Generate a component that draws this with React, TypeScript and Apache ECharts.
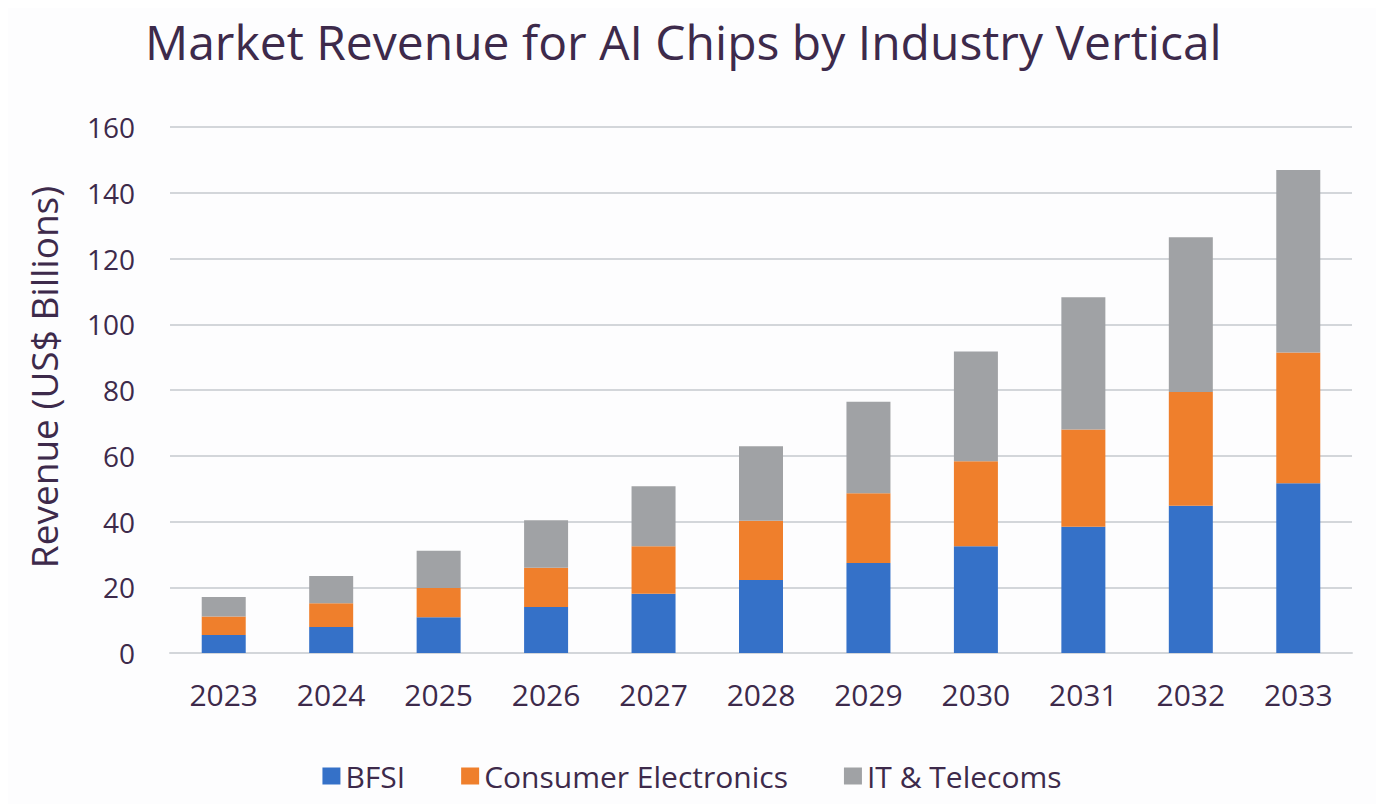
import React, { useEffect, useRef } from "react";
import * as echarts from "echarts";

const years = ["2023", "2024", "2025", "2026", "2027", "2028", "2029", "2030", "2031", "2032", "2033"];
const bfsi = [5.5, 7.9, 10.9, 14.0, 18.0, 22.2, 27.4, 32.5, 38.4, 44.8, 51.6];
const consumerElectronics = [5.6, 7.2, 8.9, 11.9, 14.5, 18.0, 21.2, 25.8, 29.6, 34.6, 39.8];
const itTelecoms = [5.9, 8.3, 11.3, 14.5, 18.2, 22.7, 27.8, 33.4, 40.2, 47.1, 55.5];

const FONT = "'Open Sans', 'Noto Sans', sans-serif";
const TEXT = "#3d2a4b";

export default function App() {
  const ref = useRef<HTMLDivElement>(null);
  useEffect(() => {
    if (!ref.current) return;
    const chart = echarts.init(ref.current, undefined, { renderer: "svg" });
    chart.setOption({
      animation: false,
      backgroundColor: "#fdfdfe",
      title: {
        text: "Market Revenue for AI Chips by Industry Vertical",
        left: 140,
        top: 12,
        textStyle: { fontFamily: FONT, fontSize: 48, fontWeight: "normal", color: TEXT },
      },
      legend: {
        top: 756,
        left: "center",
        itemWidth: 18,
        itemHeight: 17,
        itemGap: 56,
        icon: "rect",
        textStyle: { fontFamily: FONT, fontSize: 30, color: TEXT },
        data: ["BFSI", "Consumer Electronics", "IT & Telecoms"],
      },
      grid: { left: 170, right: 32, top: 127, bottom: 159 },
      xAxis: {
        type: "category",
        data: years,
        axisTick: { show: false },
        axisLine: { lineStyle: { color: "#d3d6da", width: 2 } },
        axisLabel: { fontFamily: FONT, fontSize: 30, color: TEXT, margin: 26 },
      },
      yAxis: {
        type: "value",
        min: 0,
        max: 160,
        interval: 20,
        name: "Revenue (US$ Billions)",
        nameLocation: "middle",
        nameGap: 108,
        nameRotate: 90,
        nameTextStyle: { fontFamily: FONT, fontSize: 37, color: TEXT, padding: [0, 0, 0, 26] },
        axisLabel: { fontFamily: FONT, fontSize: 28, color: TEXT, margin: 35 },
        splitLine: { lineStyle: { color: "#d3d6da", width: 2 } },
      },
      series: [
        { name: "BFSI", type: "bar", stack: "t", data: bfsi, barWidth: 44, itemStyle: { color: "#3571c8" } },
        { name: "Consumer Electronics", type: "bar", stack: "t", data: consumerElectronics, barWidth: 44, itemStyle: { color: "#ef7f2c" } },
        { name: "IT & Telecoms", type: "bar", stack: "t", data: itTelecoms, barWidth: 44, itemStyle: { color: "#a0a2a5" } },
      ],
    });
    return () => chart.dispose();
  }, []);
  return <div ref={ref} style={{ width: 1384, height: 812, margin: -8 }} />;
}
